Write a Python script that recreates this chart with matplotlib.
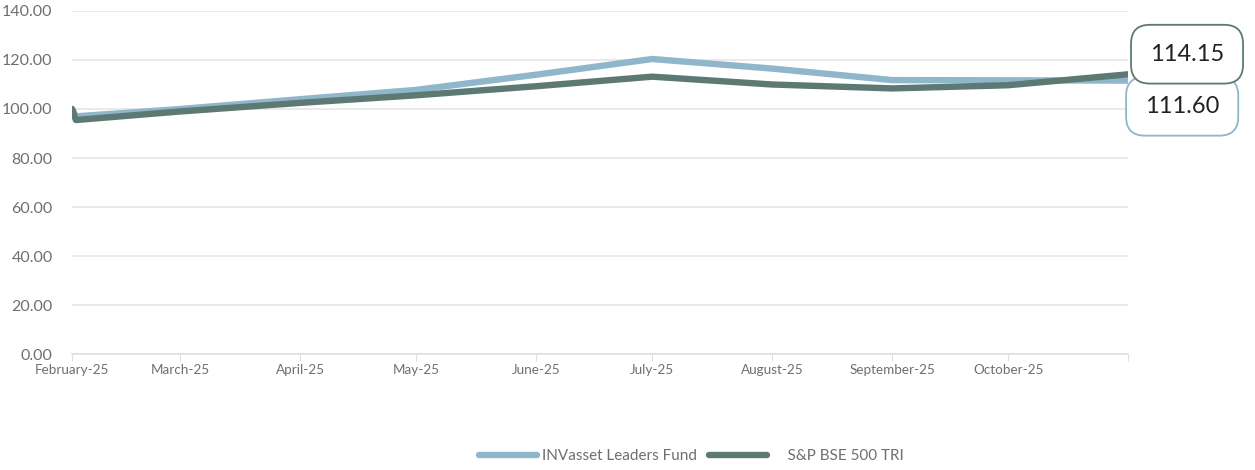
import numpy as np
import pandas as pd
import matplotlib
matplotlib.use("Agg")
import matplotlib.pyplot as plt
import matplotlib.dates as mdates

# data (rebased to 100)
dates = pd.to_datetime(['2025-02-01', '2025-02-02', '2025-03-01', '2025-04-01', '2025-05-01',
                        '2025-06-01', '2025-07-01', '2025-08-01', '2025-09-01', '2025-10-01',
                        '2025-11-01'])
fund = [100.0, 97.0, 100.0, 104.0, 107.8, 114.0, 120.4, 116.5, 111.8, 111.7, 111.60]
bench = [100.0, 95.5, 99.0, 102.5, 105.6, 109.3, 113.2, 110.0, 108.4, 109.7, 114.15]

fund_name = 'INVasset Leaders Fund'
bench_name = 'S&P BSE 500 TRI'
tick_dates = pd.to_datetime(['2025-02-01', '2025-03-01', '2025-04-01', '2025-05-01', '2025-06-01',
                             '2025-07-01', '2025-08-01', '2025-09-01', '2025-10-01', '2025-11-01'])
tick_labels = ['February-25', 'March-25', 'April-25', 'May-25', 'June-25',
               'July-25', 'August-25', 'September-25', 'October-25', '']

fund_col = '#8fb6ca'
bench_col = '#5c7a73'
grey = '#6f6f6f'

plt.rcParams['font.family'] = ['Lato', 'DejaVu Sans']

fig = plt.figure(figsize=(12.55, 4.7), dpi=100)
ax = fig.add_axes([0.0574, 0.2468, 0.8414, 0.7298])

ax.plot(dates, fund, color=fund_col, lw=4.6, solid_capstyle='round', label=fund_name, zorder=3)
ax.plot(dates, bench, color=bench_col, lw=4.6, solid_capstyle='round', label=bench_name, zorder=4)

ax.set_ylim(0, 140)
ax.set_yticks(np.arange(0, 141, 20))
ax.yaxis.set_major_formatter(matplotlib.ticker.FormatStrFormatter('%.2f'))
ax.set_xlim(dates[0], dates[-1])
ax.set_xticks(tick_dates)
ax.set_xticklabels(tick_labels)

ax.grid(axis='y', color='#e6e6e6', lw=1.2)
ax.set_axisbelow(True)
for s in ['left', 'right', 'top']:
    ax.spines[s].set_visible(False)
ax.spines['bottom'].set_color('#e0e0e0')
ax.spines['bottom'].set_linewidth(1.2)
ax.tick_params(axis='y', length=0, labelsize=11.5, labelcolor=grey, pad=14)
ax.tick_params(axis='x', length=5, color='#e0e0e0', labelsize=9.7, labelcolor=grey, pad=2)

# end value boxes
ax.annotate(f'{bench[-1]:.2f}', xy=(dates[-1], bench[-1]), xytext=(42.5, 14.5),
            textcoords='offset points', ha='center', va='center', fontsize=17, color='#222222',
            bbox=dict(boxstyle='round,pad=0.8,rounding_size=0.8', fc='white', ec=bench_col, lw=1.3),
            annotation_clip=False, zorder=6)
ax.annotate(f'{fund[-1]:.2f}', xy=(dates[-1], fund[-1]), xytext=(39, -18.5),
            textcoords='offset points', ha='center', va='center', fontsize=17, color='#222222',
            bbox=dict(boxstyle='round,pad=0.8,rounding_size=0.8', fc='white', ec=fund_col, lw=1.3),
            annotation_clip=False, zorder=5)

h, l = ax.get_legend_handles_labels()
leg = fig.legend(h, [fund_name, '    ' + bench_name], loc='center', bbox_to_anchor=(0.551, 0.03),
                 ncol=2, frameon=False, fontsize=11, handlelength=3.8, handletextpad=0.3,
                 columnspacing=0.8)
for t in leg.get_texts():
    t.set_color(grey)

fig.savefig('out.png', dpi=100)
